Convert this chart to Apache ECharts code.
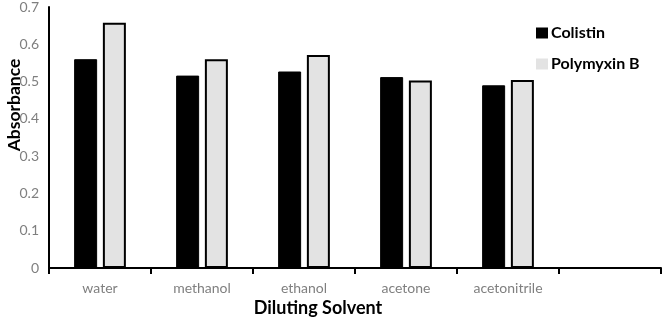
<!DOCTYPE html>
<html>
<head>
<meta charset="utf-8">
<script src="https://cdn.jsdelivr.net/npm/echarts@6/dist/echarts.min.js"></script>
<style>
  html, body { margin: 0; padding: 0; background: #fff; }
  #chart { width: 662px; height: 326px; }
</style>
</head>
<body>
<div id="chart"></div>
<script>
// categories (last slot is empty in the original figure)
const solvents = ['water', 'methanol', 'ethanol', 'acetone', 'acetonitrile', ''];
const colistin = [0.56, 0.516, 0.527, 0.512, 0.49, null];
const polymyxinB = [0.658, 0.56, 0.571, 0.503, 0.504, null];
const yTicks = [0, 0.1, 0.2, 0.3, 0.4, 0.5, 0.6, 0.7];

const font = 'Lato, "Open Sans", sans-serif';

const chart = echarts.init(document.getElementById('chart'));
chart.setOption({
  animation: false,
  textStyle: { fontFamily: font },
  grid: { left: 49, right: 1, top: 5, bottom: 58 },
  legend: {
    orient: 'vertical',
    left: 531,
    top: 20,
    itemWidth: 12,
    itemHeight: 11,
    itemGap: 15,
    icon: 'rect',
    textStyle: { fontFamily: font, fontSize: 16, fontWeight: 'bold', color: '#000', padding: [0, 0, 0, -2] },
    data: [
      { name: 'Colistin', itemStyle: { color: '#000', borderWidth: 0 } },
      { name: 'Polymyxin B', itemStyle: { color: '#e3e3e3', borderWidth: 0 } }
    ]
  },
  xAxis: {
    type: 'category',
    data: solvents,
    axisLine: { lineStyle: { color: '#000', width: 2 } },
    axisTick: { show: true, length: 6, lineStyle: { color: '#000', width: 2 } },
    axisLabel: { color: '#7f7f7f', fontSize: 14, margin: 13, fontFamily: font },
    splitLine: { show: false }
  },
  yAxis: {
    type: 'value',
    min: 0,
    max: yTicks[yTicks.length - 1],
    interval: 0.1,
    axisLine: { show: true, lineStyle: { color: '#000', width: 2 } },
    axisTick: { show: false },
    axisLabel: {
      color: '#7f7f7f', fontSize: 14, margin: 10, fontFamily: font,
      formatter: v => yTicks.includes(Math.round(v * 10) / 10) ? String(Math.round(v * 10) / 10) : ''
    },
    splitLine: { show: false }
  },
  graphic: [
    {
      type: 'text',
      x: 14, y: 105,
      rotation: Math.PI / 2,
      style: {
        text: 'Absorbance', fontFamily: font, fontSize: 17.5, fontWeight: 'bold',
        fill: '#000', align: 'center', verticalAlign: 'middle'
      }
    },
    {
      type: 'text',
      x: 318, y: 308,
      style: {
        text: 'Diluting Solvent', fontFamily: font, fontSize: 18, fontWeight: 'bold',
        fill: '#000', align: 'center', verticalAlign: 'middle'
      }
    }
  ],
  series: [
    {
      name: 'Colistin',
      type: 'bar',
      data: colistin,
      barWidth: 23,
      barGap: '25%',
      itemStyle: { color: '#000', borderColor: '#000', borderWidth: 1 }
    },
    {
      name: 'Polymyxin B',
      type: 'bar',
      data: polymyxinB,
      barWidth: 23,
      itemStyle: { color: '#e3e3e3', borderColor: '#000', borderWidth: 2 }
    }
  ]
});
</script>
</body>
</html>
